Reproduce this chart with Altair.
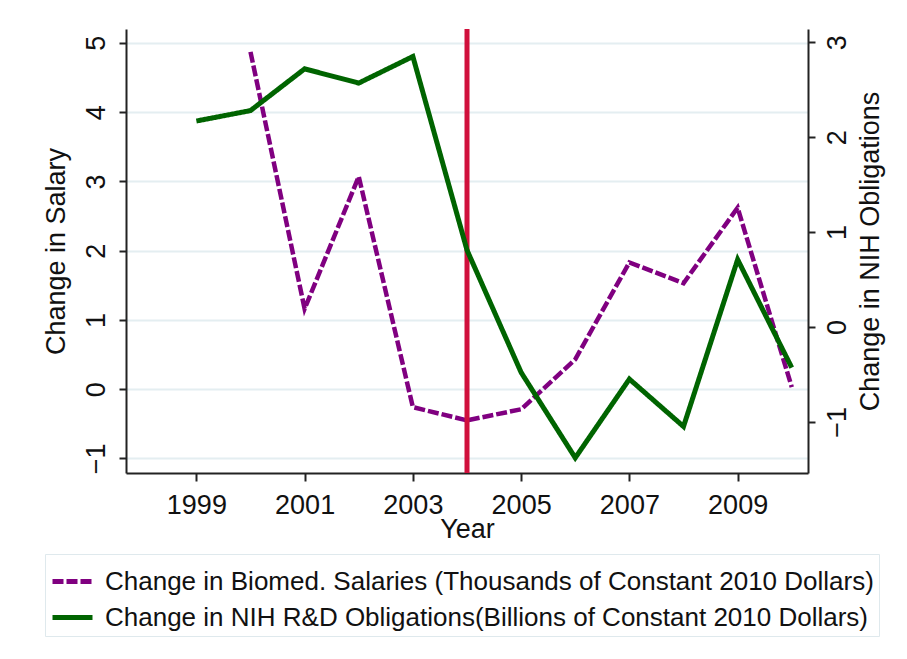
import altair as alt
import pandas as pd

SAL_LABEL = "Change in Biomed. Salaries (Thousands of Constant 2010 Dollars)"
NIH_LABEL = "Change in NIH R&D Obligations(Billions of Constant 2010 Dollars)"

sal_years = [2000, 2001, 2002, 2003, 2004, 2005, 2006, 2007, 2008, 2009, 2010]
sal_values = [4.87, 1.16, 3.07, -0.26, -0.45, -0.29, 0.43, 1.83, 1.53, 2.62, 0.03]

nih_years = [1999, 2000, 2001, 2002, 2003, 2004, 2005, 2006, 2007, 2008, 2009, 2010]
nih_values = [2.17, 2.28, 2.72, 2.57, 2.85, 0.81, -0.48, -1.38, -0.55, -1.05, 0.71, -0.43]

event_year = [2004]

x_ticks = [1999, 2001, 2003, 2005, 2007, 2009]
left_ticks = [-1, 0, 1, 2, 3, 4, 5]
right_ticks = [-1, 0, 1, 2, 3]

df = pd.concat([
    pd.DataFrame({"series": SAL_LABEL, "year": sal_years, "value": sal_values}),
    pd.DataFrame({"series": NIH_LABEL, "year": nih_years, "value": nih_values}),
])
ev = pd.DataFrame({"year": event_year})

FONT = "Liberation Sans"
W, H = 682, 444

xscale = alt.Scale(domain=[1997.7, 2010.3], nice=False, zero=False)
xaxis = alt.Axis(values=x_ticks, format="d", title="Year", grid=False,
                 tickSize=8, labelPadding=32, labelBaseline="alphabetic",
                 labelFontSize=27, titleFontSize=27, labelAngle=0,
                 titleX=W / 2, titleY=64, titleBaseline="alphabetic",
                 titleAnchor="middle", titleAlign="center")

color_scale = alt.Scale(domain=[SAL_LABEL, NIH_LABEL], range=["#800080", "#006400"])
dash_scale = alt.Scale(domain=[SAL_LABEL, NIH_LABEL], range=[[11, 3], [1, 0]])

base = alt.Chart(df)

sal = base.transform_filter(alt.datum.series == SAL_LABEL).mark_line(strokeWidth=4.5).encode(
    x=alt.X("year:Q", scale=xscale, axis=xaxis),
    y=alt.Y("value:Q", scale=alt.Scale(domain=[-1.21, 5.2], nice=False, zero=False),
            axis=alt.Axis(orient="left", values=left_ticks, title="Change in Salary",
                          grid=True, gridColor="#e4eef1", gridWidth=2,
                          tickSize=7, labelAngle=270, labelAlign="center",
                          labelBaseline="alphabetic", labelPadding=15,
                          labelFontSize=27, titleFontSize=27, titleAngle=270,
                          titleBaseline="alphabetic", titleX=-62, titleY=H / 2,
                          titleAlign="center")),
    color=alt.Color("series:N", scale=color_scale,
                    legend=alt.Legend(title=None)),
    strokeDash=alt.StrokeDash("series:N", scale=dash_scale,
                              legend=alt.Legend(title=None)),
)

rule = alt.Chart(ev).mark_rule(color="#d0103c", strokeWidth=5).encode(
    x=alt.X("year:Q", scale=xscale),
)

nih = base.transform_filter(alt.datum.series == NIH_LABEL).mark_line(strokeWidth=5).encode(
    x=alt.X("year:Q", scale=xscale, axis=xaxis),
    y=alt.Y("value:Q", scale=alt.Scale(domain=[-1.54, 3.14], nice=False, zero=False),
            axis=alt.Axis(orient="right", values=right_ticks,
                          title="Change in NIH Obligations",
                          grid=False, tickSize=7, labelAngle=270,
                          labelAlign="center", labelBaseline="alphabetic",
                          labelPadding=30, labelFontSize=27, titleFontSize=27,
                          titleAngle=270, titleBaseline="alphabetic",
                          titleX=70, titleY=H / 2, titleAlign="center")),
    color=alt.Color("series:N", scale=color_scale,
                    legend=alt.Legend(title=None)),
    strokeDash=alt.StrokeDash("series:N", scale=dash_scale,
                              legend=alt.Legend(title=None)),
)

chart = alt.layer(sal, rule, nih).resolve_scale(
    y="independent"
).properties(
    width=W, height=H,
    autosize=alt.AutoSizeParams(type="none"),
    padding={"left": 118, "top": 21, "right": 85, "bottom": 170},
    background="white",
).configure_view(
    strokeWidth=0
).configure_axis(
    labelFont=FONT, titleFont=FONT, labelColor="#111", titleColor="#111",
    titleFontWeight="normal", domainColor="#222", domainWidth=2,
    tickColor="#222", tickWidth=2,
).configure_legend(
    orient="none", legendX=-81, legendY=525, direction="vertical",
    labelFont=FONT, labelFontSize=26, labelColor="#111", labelLimit=0,
    symbolType="stroke", symbolSize=1600, symbolStrokeWidth=5,
    strokeColor="#dfe9ed", padding=5, rowPadding=0, labelOffset=10,
    fillColor="white",
)

chart.save("out.html", embed_options={"renderer": "svg", "actions": False})
